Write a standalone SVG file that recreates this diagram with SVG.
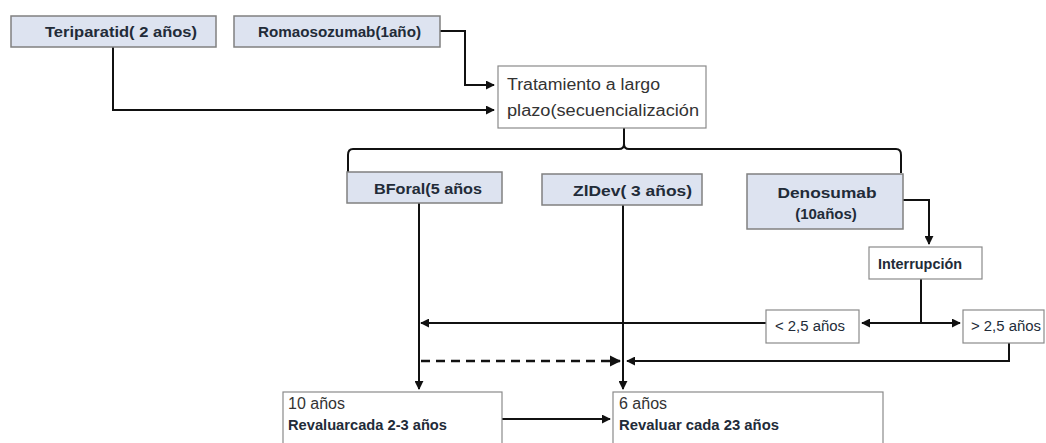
<svg xmlns="http://www.w3.org/2000/svg" width="1046" height="443" viewBox="0 0 1046 443">
  <style>
    .drug { fill: #dde3f0; stroke: #808080; stroke-width: 1.5; }
    .plain { fill: #ffffff; stroke: #8a8a8a; stroke-width: 1.2; }
    .lbl { font-family: "Liberation Sans", Arial, sans-serif; fill: #222b38; }
    .b15 { font-size: 15px; font-weight: bold; }
    .b14 { font-size: 14px; font-weight: bold; }
    .r14 { font-size: 14px; }
    .r16 { font-size: 16px; fill: #333; }
    .wire { fill: none; stroke: #111; stroke-width: 2; }
    .dash { fill: none; stroke: #111; stroke-width: 2.5; stroke-dasharray: 9 6; }
  </style>
  <defs>
    <marker id="ah" viewBox="0 0 10 10" refX="9" refY="5" markerWidth="4.5" markerHeight="4.5" orient="auto-start-reverse">
      <path d="M0,0 L10,5 L0,10 z" fill="#111"/>
    </marker>
  </defs>
  <rect width="1046" height="443" fill="#ffffff"/>

  <g id="connectors">
    <!-- Romosozumab to long-term treatment -->
    <polyline class="wire" points="440,31 465,31 465,85 494,85" marker-end="url(#ah)"/>
    <!-- Teriparatide to long-term treatment -->
    <polyline class="wire" points="113,47 113,110 494,110" marker-end="url(#ah)"/>
    <!-- brace -->
    <path class="wire" d="M624,128 L624,144 Q624,149 619,149 L353,149 Q348,149 348,155 L348,172"/>
    <path class="wire" d="M624,144 Q624,149 629,149 L896,149 Q901,149 901,155 L901,173"/>
    <!-- Denosumab to interruption -->
    <polyline class="wire" points="903,200 929,200 929,244" marker-end="url(#ah)"/>
    <!-- interruption split -->
    <line class="wire" x1="921" y1="279" x2="921" y2="323"/>
    <line class="wire" x1="921" y1="323" x2="862" y2="323" marker-end="url(#ah)"/>
    <line class="wire" x1="921" y1="323" x2="960" y2="323" marker-end="url(#ah)"/>
    <!-- < 2,5 to BF line -->
    <line class="wire" x1="766" y1="323" x2="421" y2="323" marker-end="url(#ah)"/>
    <!-- > 2,5 to ZlD line -->
    <polyline class="wire" points="1009,343 1009,361 627,361" marker-end="url(#ah)"/>
    <!-- dashed BF to ZlD -->
    <line class="dash" x1="421" y1="361" x2="620" y2="361" marker-end="url(#ah)"/>
    <!-- verticals down to outcomes -->
    <line class="wire" x1="419" y1="203" x2="419" y2="389" marker-end="url(#ah)"/>
    <line class="wire" x1="623" y1="205" x2="623" y2="389" marker-end="url(#ah)"/>
    <!-- outcome to outcome -->
    <line class="wire" x1="502" y1="419" x2="610" y2="419" marker-end="url(#ah)"/>
  </g>

  <g id="teriparatide">
    <rect class="drug" x="11" y="16" width="205" height="31"/>
    <text class="lbl b15" x="45" y="37" textLength="152" lengthAdjust="spacingAndGlyphs">Teriparatid( 2 años)</text>
  </g>
  <g id="romosozumab">
    <rect class="drug" x="234" y="16" width="206" height="31"/>
    <text class="lbl b15" x="258" y="37" textLength="163" lengthAdjust="spacingAndGlyphs">Romaosozumab(1año)</text>
  </g>
  <g id="long-term">
    <rect class="plain" x="498" y="66" width="208" height="62"/>
    <text class="lbl r16" x="507" y="90" textLength="153" lengthAdjust="spacingAndGlyphs">Tratamiento a largo</text>
    <text class="lbl r16" x="507" y="116" textLength="192" lengthAdjust="spacingAndGlyphs">plazo(secuencialización</text>
  </g>
  <g id="bf-oral">
    <rect class="drug" x="347" y="172" width="155" height="31"/>
    <text class="lbl b15" x="374" y="194" textLength="108" lengthAdjust="spacingAndGlyphs">BForal(5 años</text>
  </g>
  <g id="zld-ev">
    <rect class="drug" x="542" y="174" width="160" height="31"/>
    <text class="lbl b15" x="573" y="196" textLength="119" lengthAdjust="spacingAndGlyphs">ZlDev( 3 años)</text>
  </g>
  <g id="denosumab">
    <rect class="drug" x="747" y="174" width="156" height="55"/>
    <text class="lbl b15" x="827" y="198" text-anchor="middle" textLength="99" lengthAdjust="spacingAndGlyphs">Denosumab</text>
    <text class="lbl b15" x="826" y="219" text-anchor="middle">(10años)</text>
  </g>
  <g id="interruption">
    <rect class="plain" x="869" y="247" width="113" height="32"/>
    <text class="lbl b14" x="920" y="269" text-anchor="middle" textLength="84" lengthAdjust="spacingAndGlyphs">Interrupción</text>
  </g>
  <g id="under-2-5">
    <rect class="plain" x="766" y="310" width="93" height="33"/>
    <text class="lbl r14" x="775" y="331" textLength="70" lengthAdjust="spacingAndGlyphs">&lt; 2,5 años</text>
  </g>
  <g id="over-2-5">
    <rect class="plain" x="963" y="310" width="81" height="33"/>
    <text class="lbl r14" x="971" y="331" textLength="70" lengthAdjust="spacingAndGlyphs">&gt; 2,5 años</text>
  </g>
  <g id="ten-years">
    <rect class="plain" x="283" y="392" width="219" height="60"/>
    <text class="lbl r16" x="288" y="409" fill="#333">10 años</text>
    <text class="lbl b15" x="288" y="430" textLength="159" lengthAdjust="spacingAndGlyphs">Revaluarcada 2-3 años</text>
  </g>
  <g id="six-years">
    <rect class="plain" x="613" y="392" width="270" height="60"/>
    <text class="lbl r16" x="619" y="409" fill="#333">6 años</text>
    <text class="lbl b15" x="619" y="430" textLength="160" lengthAdjust="spacingAndGlyphs">Revaluar cada 23 años</text>
  </g>
</svg>
